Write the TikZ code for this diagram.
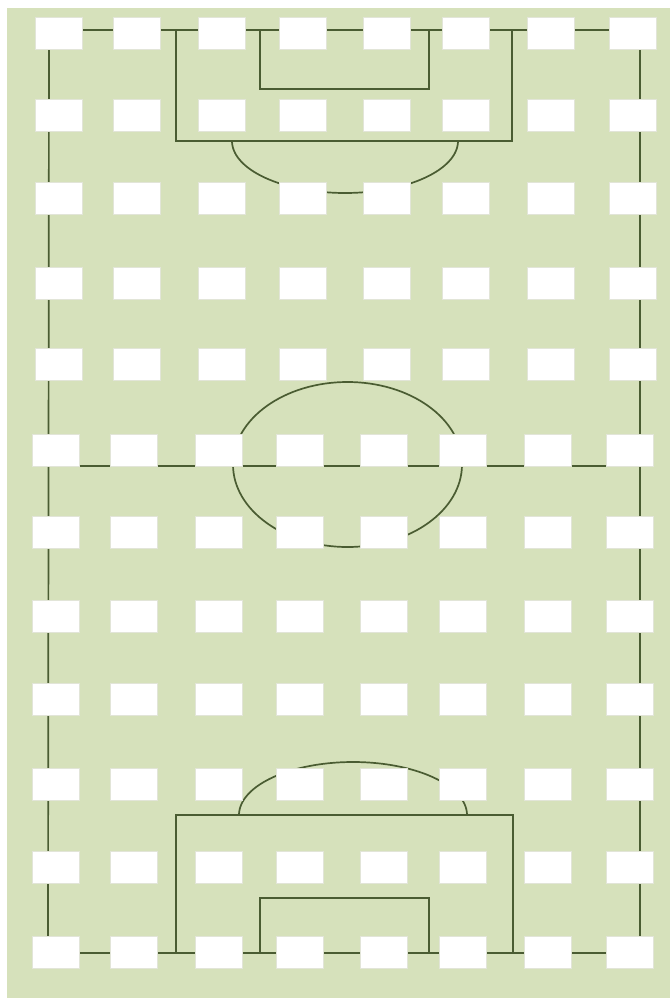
\documentclass[tikz,border=0pt]{standalone}
\usepackage{tikz}
\definecolor{grass}{RGB}{214,225,187}
\definecolor{chalk}{RGB}{74,92,50}
\definecolor{padedge}{RGB}{226,229,216}
\tikzset{
  pitchline/.style={draw=chalk, line width=1.7pt, line join=miter},
  pad/.style={rectangle, fill=white, draw=padedge, line width=0.8pt,
              minimum width=47pt, minimum height=32pt, inner sep=0pt}
}
\begin{document}
\begin{tikzpicture}[x=1pt,y=-1pt]
\useasboundingbox (0,0) rectangle (670,998);
\fill[white] (0,0) rectangle (670,998);
\fill[grass] (7,8) rectangle (670,998);
% pitch markings
\draw[pitchline] (49,30) -- (640,30);
\draw[pitchline] (48,953) -- (640,953);
\draw[pitchline] (49,30) -- (48,953);
\draw[pitchline] (640,30) -- (640,953);
\draw[pitchline] (48.5,466) -- (640,466);
% top penalty area and goal area
\draw[pitchline] (176,30) -- (176,141) -- (512,141) -- (512,30);
\draw[pitchline] (260,30) -- (260,89) -- (429,89) -- (429,30);
\draw[pitchline] plot[domain=0:180, samples=80, smooth] ({345+113*cos(\x)},{141+52*sin(\x)});
% centre circle
\draw[pitchline] (347.5,464.5) ellipse [x radius=114.5, y radius=82.5];
% bottom penalty area and goal area
\draw[pitchline] (176,953) -- (176,815) -- (513,815) -- (513,953);
\draw[pitchline] (260,953) -- (260,898) -- (429,898) -- (429,953);
\draw[pitchline] plot[domain=0:180, samples=80, smooth] ({353+114*cos(\x)},{815-53*sin(\x)});
% white pads
\foreach \yy [count=\i] in {33.5,115.5,198.5,283,364,450.5,532.5,616.5,699.5,784,867,952.5}{
  \pgfmathsetmacro{\dx}{ifthenelse(\i>5,-3,0)}
  \foreach \xx [count=\j] in {58.5,136.5,222,303,387,465.5,550.5,632.5}{
    \node[pad] (r\i-\j) at ({\xx+\dx},\yy) {};
  }
}
\end{tikzpicture}
\end{document}
